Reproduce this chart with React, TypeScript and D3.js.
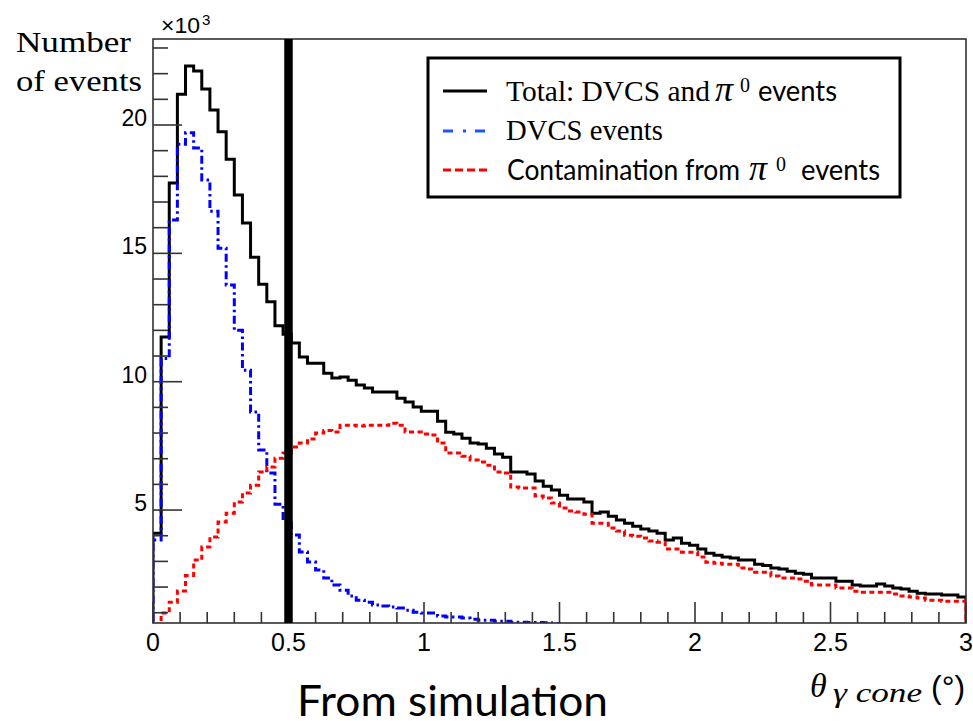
import React from "react";
import * as d3 from "d3";

// ---- data (thousands of events per 0.03° bin, 0..3°) ----
const binWidth = 0.03;
const totalEvents = [
  4.1, 11.74, 17.74, 21.2, 22.3, 22.1, 21.4, 20.58, 19.74, 18.67,
  17.27, 16.18, 14.85, 13.8, 13.11, 12.18, 11.85, 11.51, 10.96, 10.72,
  10.72, 10.33, 10.14, 10.18, 10.06, 9.87, 9.75, 9.6, 9.6, 9.6,
  9.36, 9.21, 9.01, 8.85, 8.85, 8.46, 8.03, 7.96, 7.8, 7.61,
  7.57, 7.41, 7.18, 7.06, 6.48, 6.48, 6.4, 6.13, 5.93, 5.78,
  5.58, 5.43, 5.43, 5.31, 4.88, 4.92, 4.76, 4.61, 4.49, 4.37,
  4.26, 4.18, 4.1, 3.83, 3.91, 3.71, 3.63, 3.48, 3.32, 3.24,
  3.17, 3.13, 3.05, 3.05, 2.89, 2.84, 2.74, 2.7, 2.62, 2.54,
  2.5, 2.35, 2.35, 2.35, 2.23, 2.23, 2.08, 2.04, 2.04, 2.12,
  2.04, 1.96, 1.92, 1.84, 1.76, 1.73, 1.73, 1.69, 1.69, 1.61,
];
const dvcsEvents = [
  3.83, 10.9, 16.3, 19.25, 19.7, 19.1, 17.86, 16.64, 15.2, 13.77,
  12.0, 10.45, 8.82, 7.34, 6.44, 5.23, 4.61, 4.03, 3.37, 2.98,
  2.66, 2.35, 2.08, 1.88, 1.65, 1.49, 1.41, 1.3, 1.26, 1.22,
  1.18, 1.1, 1.02, 0.99, 0.99, 0.87, 0.83, 0.83, 0.79, 0.75,
  0.71, 0.71, 0.67, 0.67, 0.63, 0.63, 0.62, 0.62, 0.61, 0.58,
  0.5, 0.48, 0.47, 0.46, 0.44, 0.43, 0.42, 0.41, 0.4, 0.39,
  0.38, 0.37, 0.36, 0.35, 0.35, 0.34, 0.33, 0.32, 0.32, 0.31,
  0.3, 0.3, 0.29, 0.29, 0.28, 0.28, 0.27, 0.27, 0.26, 0.26,
  0.25, 0.25, 0.24, 0.24, 0.23, 0.23, 0.22, 0.22, 0.21, 0.21,
  0.2, 0.2, 0.19, 0.19, 0.18, 0.18, 0.17, 0.17, 0.16, 0.16,
];
const pi0Events = [
  0.55, 0.99, 1.41, 1.85, 2.45, 3.05, 3.56, 3.95, 4.53, 4.88,
  5.31, 5.66, 5.97, 6.48, 6.68, 7.02, 7.22, 7.46, 7.61, 7.77,
  8.0, 8.1, 8.04, 8.3, 8.3, 8.27, 8.3, 8.3, 8.3, 8.38,
  8.3, 8.04, 8.04, 7.96, 7.92, 7.61, 7.22, 7.22, 7.1, 6.95,
  6.87, 6.75, 6.48, 6.44, 5.9, 5.86, 5.86, 5.55, 5.47, 5.27,
  5.08, 4.96, 4.92, 4.84, 4.49, 4.49, 4.3, 4.18, 4.02, 3.98,
  3.91, 3.79, 3.75, 3.48, 3.48, 3.36, 3.36, 3.17, 2.97, 2.93,
  2.89, 2.89, 2.74, 2.7, 2.58, 2.58, 2.43, 2.35, 2.35, 2.31,
  2.23, 2.08, 2.08, 2.08, 1.96, 1.96, 1.84, 1.8, 1.8, 1.8,
  1.8, 1.73, 1.65, 1.61, 1.57, 1.49, 1.49, 1.45, 1.45, 1.45,
];
const xTickLabels = ["0", "0.5", "1", "1.5", "2", "2.5", "3"];
const xTickValues = [0, 0.5, 1, 1.5, 2, 2.5, 3];
const yTickValues = [5, 10, 15, 20];
const yTickLabels = ["5", "10", "15", "20"];
const cutValue = 0.5;
const legendLabels = ["Total: DVCS and", "DVCS events", "Contamination from"];

// ---- layout ----
const W = 973;
const H = 721;
const left = 153, right = 966, top = 39, bottom = 623;
const serif = "'Liberation Serif', 'Times New Roman', serif";
const sans = "Lato, 'Open Sans', sans-serif";
const arial = "'Liberation Sans', Arial, sans-serif";
const frameColor = "#333";

export default function App() {
  const x = d3.scaleLinear().domain([0, 3]).range([left, right]);
  const y = d3.scaleLinear().domain([0.6, 23.35]).range([bottom, top]);

  const stepPath = (vals: number[]) => {
    const pts: [number, number][] = [[0, 0]];
    vals.forEach((v, i) => pts.push([i * binWidth, v]));
    pts.push([vals.length * binWidth, vals[vals.length - 1]]);
    pts.push([vals.length * binWidth, 0]);
    return d3
      .line<[number, number]>()
      .x((d) => x(d[0]))
      .y((d) => y(d[1]))
      .curve(d3.curveStepAfter)(pts) as string;
  };

  const xMinor = d3.range(0, 31).map((i) => i / 10).filter((v) => Math.abs(v * 2 - Math.round(v * 2)) > 1e-6);
  const yMinor = d3.range(1, 24).filter((v) => v % 5 !== 0);

  return (
    <svg width={W} height={H} style={{ position: "absolute", left: 0, top: 0, background: "#fff" }}>
      <defs>
        <clipPath id="plotClip">
          <rect x={left} y={top} width={right - left} height={bottom - top} />
        </clipPath>
      </defs>
      <rect x={0} y={0} width={W} height={H} fill="#fff" />

      {/* histograms */}
      <g clipPath="url(#plotClip)" fill="none">
        <path d={stepPath(totalEvents)} stroke="#000" strokeWidth={3} />
        <path d={stepPath(dvcsEvents)} stroke="#0000ff" strokeWidth={3} strokeDasharray="8 3.5 2.5 3.5" />
        <path d={stepPath(pi0Events)} stroke="#ff0000" strokeWidth={3} strokeDasharray="5 3.5" />
      </g>

      {/* frame */}
      <rect x={left} y={top} width={right - left} height={bottom - top} fill="none" stroke={frameColor} strokeWidth={1.6} />

      {/* ticks */}
      <g stroke={frameColor} strokeWidth={1.6}>
        {xTickValues.map((v) => (
          <line key={"xM" + v} x1={x(v)} x2={x(v)} y1={bottom} y2={bottom - 21} />
        ))}
        {xMinor.map((v) => (
          <line key={"xm" + v} x1={x(v)} x2={x(v)} y1={bottom} y2={bottom - 11} />
        ))}
        {yTickValues.map((v) => (
          <line key={"yM" + v} x1={left} x2={left + 29} y1={y(v)} y2={y(v)} />
        ))}
        {yMinor.map((v) => (
          <line key={"ym" + v} x1={left} x2={left + 15} y1={y(v)} y2={y(v)} />
        ))}
      </g>

      {/* tick labels */}
      <g fontFamily={arial} fontSize={25} fill="#000" textAnchor="middle">
        {xTickValues.map((v, i) => (
          <text key={"xl" + v} x={x(v)} y={651}>{xTickLabels[i]}</text>
        ))}
      </g>
      <g fontFamily={arial} fontSize={23} fill="#000" textAnchor="end">
        {yTickValues.map((v, i) => (
          <text key={"yl" + v} x={147} y={y(v) + 1}>{yTickLabels[i]}</text>
        ))}
      </g>
      <text x={161} y={33} fontFamily={arial} fontSize={22} fill="#000" textLength={39} lengthAdjust="spacingAndGlyphs">×10</text>
      <text x={202} y={25} fontFamily={arial} fontSize={15} fill="#000">3</text>

      {/* cut line */}
      <line x1={x(cutValue)} x2={x(cutValue)} y1={top} y2={bottom} stroke="#000" strokeWidth={8.5} />

      {/* y title */}
      <text x={16} y={52} fontFamily={serif} fontSize={30} fill="#000" textLength={115} lengthAdjust="spacingAndGlyphs">Number</text>
      <text x={16} y={91} fontFamily={serif} fontSize={30} fill="#000" textLength={126} lengthAdjust="spacingAndGlyphs">of events</text>

      {/* legend */}
      <rect x={428} y={58} width={472} height={139} fill="#fff" stroke="#000" strokeWidth={3} />
      <line x1={443} x2={487} y1={91} y2={91} stroke="#000" strokeWidth={3} />
      <line x1={443} x2={487} y1={131} y2={131} stroke="#1a55ff" strokeWidth={3} strokeDasharray="10 10 3 9" />
      <line x1={443} x2={487} y1={170} y2={170} stroke="#ff0000" strokeWidth={3} strokeDasharray="8 4" />

      <text x={506} y={101} fontFamily={serif} fontSize={29} fill="#000" textLength={204} lengthAdjust="spacingAndGlyphs">{legendLabels[0]}</text>
      <text x={715} y={101} fontFamily={serif} fontStyle="italic" fontSize={36} fill="#000">π</text>
      <text x={740} y={92} fontFamily={serif} fontSize={20} fill="#000">0</text>
      <text x={758} y={101} fontFamily={sans} fontSize={28} fill="#000" textLength={79} lengthAdjust="spacingAndGlyphs">events</text>

      <text x={506} y={140} fontFamily={serif} fontSize={29} fill="#000" textLength={157} lengthAdjust="spacingAndGlyphs">{legendLabels[1]}</text>

      <text x={507} y={180} fontFamily={sans} fontSize={28} fill="#000" textLength={233} lengthAdjust="spacingAndGlyphs">{legendLabels[2]}</text>
      <text x={749} y={180} fontFamily={serif} fontStyle="italic" fontSize={36} fill="#000">π</text>
      <text x={776} y={171} fontFamily={serif} fontSize={20} fill="#000">0</text>
      <text x={801} y={180} fontFamily={sans} fontSize={28} fill="#000" textLength={79} lengthAdjust="spacingAndGlyphs">events</text>

      {/* x title */}
      <text x={810} y={697} fontFamily={serif} fontStyle="italic" fontSize={34} fill="#000">θ</text>
      <text x={833} y={702} fontFamily={serif} fontStyle="italic" fontSize={28} fill="#000" textLength={89} lengthAdjust="spacingAndGlyphs">γ cone</text>
      <text x={931} y={698} fontFamily={arial} fontSize={32} fill="#000">(°)</text>

      {/* caption */}
      <text x={297} y={716} fontFamily={sans} fontSize={42} fill="#000" textLength={311} lengthAdjust="spacingAndGlyphs">From simulation</text>
    </svg>
  );
}
